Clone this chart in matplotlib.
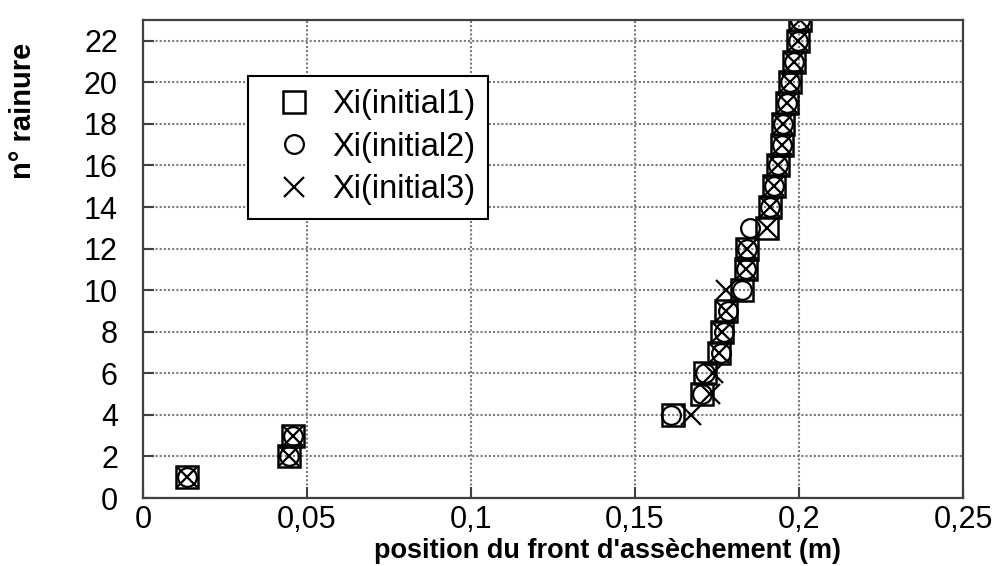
import numpy as np
import matplotlib
matplotlib.use("Agg")
import matplotlib.pyplot as plt
from matplotlib.ticker import FuncFormatter

plt.rcParams['font.family'] = ['Liberation Sans', 'DejaVu Sans']

# n° rainure
rainure = list(range(1, 24))

# position du front (m) for the three initial states
xi_initial1 = [0.0133, 0.0446, 0.0458, 0.1616, 0.1704, 0.1715, 0.1755, 0.1765,
               0.1777, 0.1826, 0.1837, 0.1842, 0.1903, 0.1913, 0.1924, 0.1937,
               0.1947, 0.1952, 0.1962, 0.1974, 0.1985, 0.1998, 0.2003]
xi_initial2 = [0.0133, 0.0446, 0.0458, 0.1609, 0.1704, 0.1715, 0.1761, 0.1772,
               0.1784, 0.1826, 0.1837, 0.1842, 0.1852, 0.1913, 0.1924, 0.1937,
               0.1947, 0.1952, 0.1962, 0.1974, 0.1985, 0.1998, 0.2003]
xi_initial3 = [0.0133, 0.0446, 0.0458, 0.1671, 0.1729, 0.1739, 0.1755, 0.1765,
               0.1777, 0.1779, 0.1837, 0.1842, 0.1903, 0.1913, 0.1924, 0.1937,
               0.1947, 0.1952, 0.1962, 0.1974, 0.1985, 0.1998, 0.2003]

labels = ["Xi(initial1)", "Xi(initial2)", "Xi(initial3)"]
x_ticks = [0, 0.05, 0.1, 0.15, 0.2, 0.25]
y_ticks = list(range(0, 23, 2))

fig = plt.figure(figsize=(9.95, 5.66), dpi=100)
ax = fig.add_axes([0.1437, 0.1201, 0.8241, 0.8446])

ax.plot(xi_initial1, rainure, ls='none', marker='s', ms=15.5, mfc='none',
        mec='black', mew=1.8, label=labels[0])
ax.plot(xi_initial2, rainure, ls='none', marker='o', ms=13.5, mfc='none',
        mec='black', mew=1.6, label=labels[1])
ax.plot(xi_initial3, rainure, ls='none', marker='x', ms=15, mfc='none',
        mec='black', mew=1.6, label=labels[2])

ax.set_xlim(0, 0.25)
ax.set_ylim(0, 23)
ax.set_xticks(x_ticks)
ax.set_yticks(y_ticks)
ax.xaxis.set_major_formatter(FuncFormatter(lambda v, p: ('%g' % v).replace('.', ',')))

ax.grid(True, color='#7a7a7a', linestyle=(0, (1, 1)), linewidth=1.5)
ax.set_axisbelow(True)
for s in ax.spines.values():
    s.set_color('#404040')
    s.set_linewidth(1.6)
ax.tick_params(axis='both', direction='in', length=8, width=1.5, color='#404040',
               labelsize=22)
ax.tick_params(axis='y', pad=18)
ax.tick_params(axis='x', pad=5)

ax.set_xlabel("position du front d'assèchement (m)", fontsize=19.5,
              fontweight='bold', va='center')
ax.xaxis.set_label_coords(0.567, -0.11)
ax.set_ylabel("n° rainure", fontsize=21, fontweight='bold', va='center')
ax.yaxis.set_label_coords(-0.146, 0.81)

leg = ax.legend(loc='upper left', bbox_to_anchor=(0.128, 0.883), borderaxespad=0,
                fontsize=23.5, fancybox=False, framealpha=1, edgecolor='black',
                handlelength=2.05, handletextpad=0.12, labelspacing=0.36,
                borderpad=0.4, markerscale=1.0)
leg.get_frame().set_linewidth(1.5)

fig.savefig("out.png", dpi=100)
